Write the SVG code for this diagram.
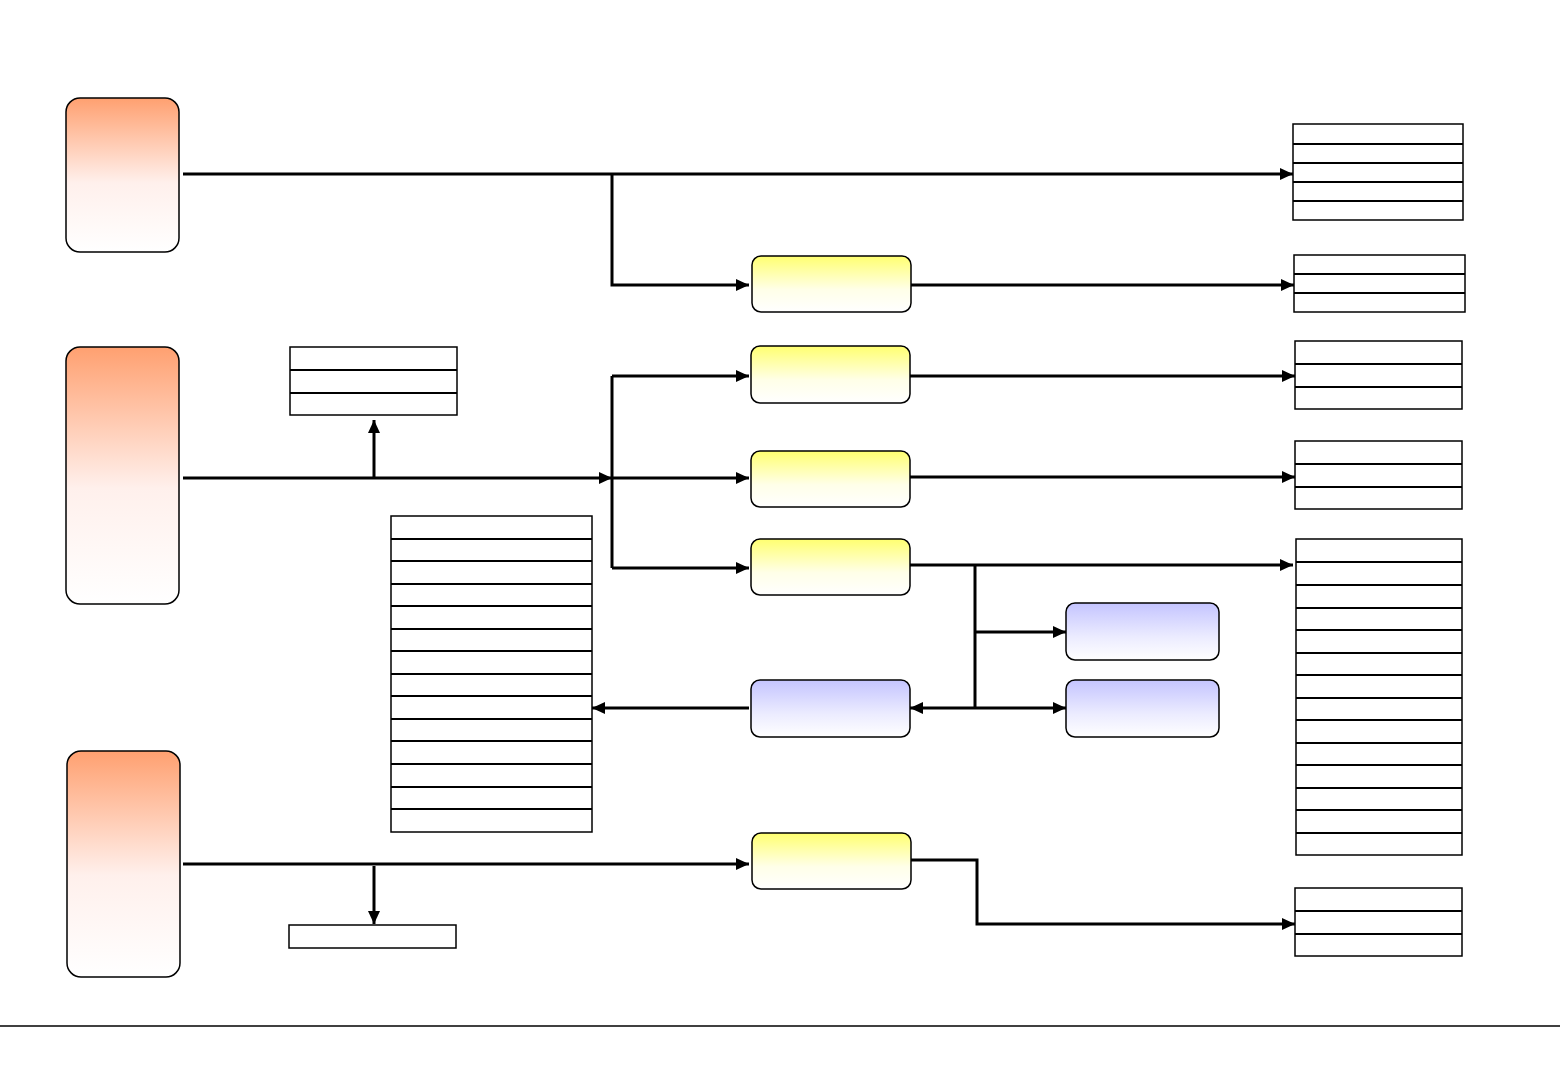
<svg xmlns="http://www.w3.org/2000/svg" width="1560" height="1080" viewBox="0 0 1560 1080">
<style>
.on{fill:url(#gO);stroke:#000;stroke-width:1.5}
.yn{fill:url(#gY);stroke:#000;stroke-width:1.5}
.bn{fill:url(#gB);stroke:#000;stroke-width:1.5}
.tb{fill:#fff;stroke:#000;stroke-width:1.5}
.rl{stroke:#000;stroke-width:2}
.c{fill:none;stroke:#000;stroke-width:3}
.a{marker-end:url(#ah)}
</style>
<defs>
<linearGradient id="gO" x1="0" y1="0" x2="0" y2="1"><stop offset="0" stop-color="#FFA070"/><stop offset="0.55" stop-color="#FFF0EC"/><stop offset="1" stop-color="#FFFFFF"/></linearGradient>
<linearGradient id="gY" x1="0" y1="0" x2="0" y2="1"><stop offset="0" stop-color="#FFFF70"/><stop offset="0.6" stop-color="#FFFFE8"/><stop offset="1" stop-color="#FFFFFF"/></linearGradient>
<linearGradient id="gB" x1="0" y1="0" x2="0" y2="1"><stop offset="0" stop-color="#C4C4FF"/><stop offset="0.6" stop-color="#ECECFF"/><stop offset="1" stop-color="#FFFFFF"/></linearGradient>
<marker id="ah" markerUnits="userSpaceOnUse" markerWidth="14" markerHeight="12" refX="13" refY="6" orient="auto"><path d="M0,0 L13,6 L0,12 z" fill="#000"/></marker>
</defs>
<rect width="1560" height="1080" fill="#fff"/>

<g id="o1"><rect class="on" x="66" y="98" width="113" height="154" rx="14"/></g>
<g id="o2"><rect class="on" x="66" y="347" width="113" height="257" rx="14"/></g>
<g id="o3"><rect class="on" x="67" y="751" width="113" height="226" rx="14"/></g>

<g id="y1"><rect class="yn" x="752" y="256" width="159" height="56" rx="9"/></g>
<g id="y2"><rect class="yn" x="751" y="346" width="159" height="57" rx="9"/></g>
<g id="y3"><rect class="yn" x="751" y="451" width="159" height="56" rx="9"/></g>
<g id="y4"><rect class="yn" x="751" y="539" width="159" height="56" rx="9"/></g>
<g id="y5"><rect class="yn" x="752" y="833" width="159" height="56" rx="9"/></g>

<g id="b1"><rect class="bn" x="751" y="680" width="159" height="57" rx="9"/></g>
<g id="b2"><rect class="bn" x="1066" y="603" width="153" height="57" rx="9"/></g>
<g id="b3"><rect class="bn" x="1066" y="680" width="153" height="57" rx="9"/></g>

<g id="t1"><rect class="tb" x="1293" y="124" width="170" height="96"/>
<path class="rl" d="M1293,144H1463M1293,163H1463M1293,182H1463M1293,201H1463"/></g>
<g id="t2"><rect class="tb" x="1294" y="255" width="171" height="57"/>
<path class="rl" d="M1294,274H1465M1294,293H1465"/></g>
<g id="t3"><rect class="tb" x="1295" y="341" width="167" height="68"/>
<path class="rl" d="M1295,364H1462M1295,387H1462"/></g>
<g id="t4"><rect class="tb" x="1295" y="441" width="167" height="68"/>
<path class="rl" d="M1295,464H1462M1295,487H1462"/></g>
<g id="t5"><rect class="tb" x="1296" y="539" width="166" height="316"/>
<path class="rl" d="M1296,562H1462M1296,585H1462M1296,608H1462M1296,630H1462M1296,653H1462M1296,675H1462M1296,698H1462M1296,720H1462M1296,743H1462M1296,765H1462M1296,788H1462M1296,810H1462M1296,833H1462"/></g>
<g id="t6"><rect class="tb" x="1295" y="888" width="167" height="68"/>
<path class="rl" d="M1295,911H1462M1295,934H1462"/></g>
<g id="t7"><rect class="tb" x="290" y="347" width="167" height="68"/>
<path class="rl" d="M290,370H457M290,393H457"/></g>
<g id="t8"><rect class="tb" x="391" y="516" width="201" height="316"/>
<path class="rl" d="M391,539H592M391,561H592M391,584H592M391,606H592M391,629H592M391,651H592M391,674H592M391,696H592M391,719H592M391,741H592M391,764H592M391,787H592M391,809H592"/></g>
<g id="t9"><rect class="tb" x="289" y="925" width="167" height="23"/></g>

<g id="connectors">
<path class="c a" d="M183,174H1293"/>
<path class="c a" d="M612,174V285H749"/>
<path class="c a" d="M911,285H1294"/>
<path class="c a" d="M183,478H612"/>
<path class="c a" d="M374,478V420"/>
<path class="c" d="M612,376V568"/>
<path class="c a" d="M612,376H749"/>
<path class="c a" d="M612,478H749"/>
<path class="c a" d="M612,568H749"/>
<path class="c a" d="M910,376H1295"/>
<path class="c a" d="M910,477H1295"/>
<path class="c a" d="M910,565H1293"/>
<path class="c" d="M975,565V708"/>
<path class="c a" d="M975,632H1066"/>
<path class="c a" d="M975,708H1066"/>
<path class="c a" d="M975,708H910"/>
<path class="c a" d="M749,708H592"/>
<path class="c a" d="M183,864H749"/>
<path class="c a" d="M374,866V924"/>
<path class="c a" d="M911,860H977V924H1295"/>
<path d="M0,1026H1560" stroke="#000" stroke-width="1.5"/>
</g>
</svg>
